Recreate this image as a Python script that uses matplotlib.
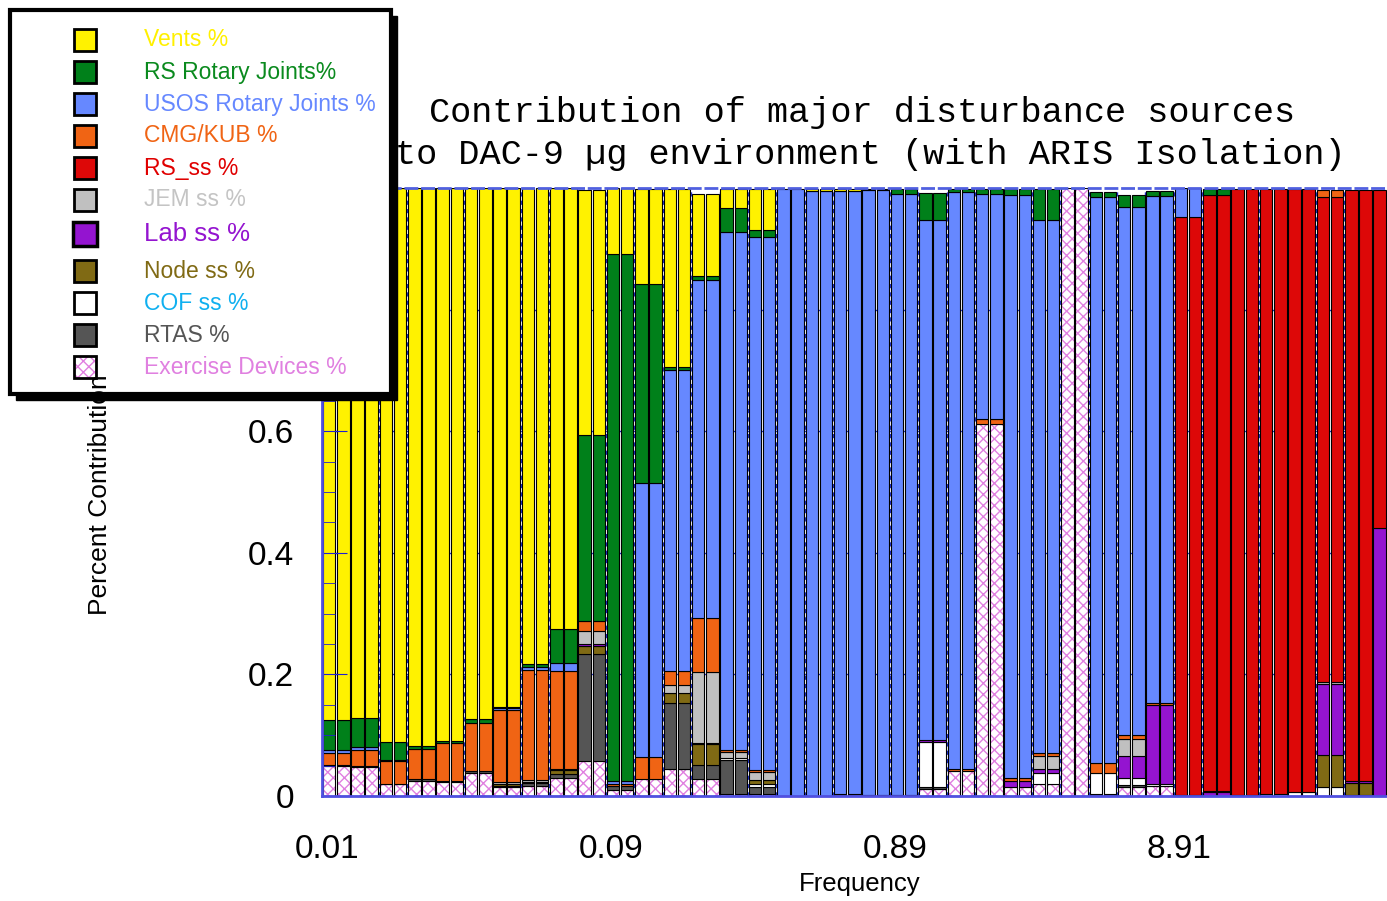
import numpy as np
import matplotlib
matplotlib.use("Agg")
import matplotlib.pyplot as plt
from matplotlib.patches import Rectangle

plt.rcParams['font.family'] = ['Liberation Sans', 'DejaVu Sans']
plt.rcParams['hatch.linewidth'] = 1.0

###############################################################################
# Data: share of each source per 1/3-octave band (each band drawn as a pair)
# ---------------------------------------------------------------------------

freq_labels = ['0.01', '0.09', '0.89', '8.91']
label_bands = [0, 10, 20, 30]

exercise = [.049, .048, .019, .025, .023, .038, .014, .017, .029, .058, .010, .028, .045, .028, .004, .003, 0, 0, 0, 0,
            0, .011, .041, .612, .015, .019, 1.0, 0, .015, .016, 0, 0, 0, 0, 0, 0, 0, 0]
rtas = [.002, .002, .001, .003, .002, .003, .003, .004, .008, .175, .006, 0, .108, .023, .056, .011, 0, 0, .003, 0,
        .002, .003, 0, 0, 0, 0, 0, .003, .003, 0, 0, 0, 0, 0, 0, 0, 0, 0]
cof = [0, 0, 0, 0, 0, 0, 0, 0, 0, 0, 0, 0, 0, 0, .003, .005, 0, 0, 0, 0,
       0, .074, 0, 0, 0, .019, 0, .035, .012, .003, 0, 0, 0, .003, .006, .014, .002, 0]
node = [0, 0, 0, 0, 0, 0, .003, .002, .005, .014, 0, 0, .016, .034, 0, .007, 0, 0, 0, 0,
        0, 0, 0, 0, 0, 0, 0, 0, 0, 0, 0, 0, 0, 0, 0, .053, .020, 0]
lab = [0, 0, 0, 0, 0, 0, 0, 0, 0, .003, 0, 0, 0, .002, 0, 0, 0, 0, 0, .002,
       0, .004, 0, 0, .010, .007, 0, 0, .035, .131, .002, .006, .002, 0, 0, .117, .003, .441]
jem = [0, 0, 0, 0, 0, 0, .003, .004, .002, .022, 0, 0, .014, .117, .010, .014, 0, 0, 0, 0,
       0, 0, 0, 0, 0, .020, 0, 0, .028, 0, 0, .003, 0, 0, 0, .003, 0, 0]
rs_ss = [0] * 30 + [.951, .979, .996, .995, .992, .798, .971, .556]
cmg = [.019, .026, .037, .050, .062, .079, .118, .180, .162, .016, .003, .036, .023, .088, .003, .003, 0, 0, 0, 0,
       0, 0, .004, .008, .005, .006, 0, .016, .007, .003, 0, 0, 0, 0, 0, .012, 0, 0]
usos = [.006, .005, .003, 0, 0, 0, .003, .005, .012, 0, .005, .450, .494, .557, .852, .876, .999, .995, .992, .995,
        .988, .856, .949, .370, .958, .877, 0, .931, .868, .834, .047, 0, 0, 0, 0, 0, 0, 0]
rs_rot = [.049, .048, .028, .004, .003, .007, .003, .005, .057, .306, .867, .328, .006, .007, .039, .012, 0, 0, 0, .002,
          .008, .043, .004, .008, .010, .050, 0, .009, .020, .008, 0, .010, 0, 0, 0, 0, 0, 0]
vents = [.875, .871, .912, .918, .910, .873, .853, .783, .725, .403, .109, .156, .292, .134, .031, .067, 0, .004, .004, 0,
         0, 0, 0, 0, 0, 0, 0, 0, 0, 0, 0, 0, 0, 0, 0, 0, 0, 0]

# legend order (top to bottom); stacking goes the other way
names = ['Vents %', 'RS Rotary Joints%', 'USOS Rotary Joints %', 'CMG/KUB %', 'RS_ss %', 'JEM ss %',
         'Lab ss %', 'Node ss %', 'COF ss %', 'RTAS %', 'Exercise Devices %']
series = [vents, rs_rot, usos, cmg, rs_ss, jem, lab, node, cof, rtas, exercise]
fill = ['#FFF200', '#00801A', '#6688FF', '#F06414', '#DD0808', '#C0C0C0',
        '#9414D0', '#806A14', '#FFFFFF', '#555555', '#FFFFFF']
text_col = ['#FFF000', '#0A8A1E', '#6688FF', '#F06414', '#E00000', '#C4C4C4',
            '#9414D0', '#806A14', '#10B0F0', '#555555', '#E080E0']
hatch_col = '#E080E0'

###############################################################################
# Plot
# ----

fig = plt.figure(figsize=(13.87, 9.01), dpi=100)
ax = fig.add_axes([322 / 1387, 105 / 901, 1079 / 1387, 608 / 901])

n = len(vents)
band = np.arange(n)
bottom = np.zeros(n)
for k in range(len(series) - 1, -1, -1):
    h = np.array(series[k], dtype=float)
    m = h > 0
    for off in (0.5, 1.5):
        x = 2 * band[m] + off
        if names[k].startswith('Exercise'):
            ax.bar(x, h[m], 0.88, bottom=bottom[m], color='white', edgecolor=hatch_col,
                   hatch='xxx', linewidth=0, zorder=1)
            ax.bar(x, h[m], 0.88, bottom=bottom[m], color='none', edgecolor='black',
                   linewidth=0.8, zorder=1)
        else:
            ax.bar(x, h[m], 0.88, bottom=bottom[m], color=fill[k], edgecolor='black',
                   linewidth=0.8, zorder=1)
    bottom += h

# blue guides seen through the gaps
for i in range(n + 1):
    ax.axvline(2 * i, color='#2030D0', lw=1, ls=(0, (3, 3)), zorder=0)
for yv in [0.2, 0.4, 0.6, 0.8]:
    ax.axhline(yv, color='#2030D0', lw=1, zorder=0)

ax.set_xlim(0, 2 * n)
ax.set_ylim(0, 1)
ax.set_xticks([2 * i + 0.35 for i in label_bands])
ax.set_xticklabels(freq_labels, fontsize=24)
ax.tick_params(axis='x', length=0, pad=27)
# 0.8 and 1 sit under the legend box, so only the visible labels are written
ax.set_yticks([0, 0.2, 0.4, 0.6, 0.8, 1.0])
ax.set_yticklabels(['0', '0.2', '0.4', '0.6', '', ''], fontsize=24)
ax.set_yticks(np.arange(0.05, 1.0, 0.05), minor=True)
ax.tick_params(axis='y', which='major', direction='in', length=18, color='#2020D0', pad=20)
ax.tick_params(axis='y', which='minor', direction='in', length=9, color='#2020D0')
for s in ['left', 'bottom']:
    ax.spines[s].set_color('#5050E0')
    ax.spines[s].set_linewidth(2)
ax.spines['top'].set_color('#5060E0')
ax.spines['top'].set_linestyle((0, (4, 2)))
ax.spines['top'].set_linewidth(2)
ax.spines['right'].set_visible(False)

# overlay in pixel coordinates for title, labels and the boxed legend
ov = fig.add_axes([0, 0, 1, 1], zorder=10)
ov.set_xlim(0, 1387)
ov.set_ylim(901, 0)
ov.axis('off')

ov.text(862, 122, 'Contribution of major disturbance sources', family='Liberation Mono',
        fontsize=25.4, ha='center', va='baseline')
ov.text(870, 164, 'to DAC-9 \u00b5g environment (with ARIS Isolation)', family='Liberation Mono',
        fontsize=25.4, ha='center', va='baseline')
ov.text(860, 884, 'Frequency', fontsize=18.5, ha='center', va='center')

ov.add_patch(Rectangle((16, 16), 381, 384, facecolor='black', edgecolor='black', zorder=1))
ov.add_patch(Rectangle((10, 10), 381, 384, facecolor='white', edgecolor='black', lw=3, zorder=2))
row_y = [40, 72, 104, 136, 168, 200, 234, 271, 303, 335, 367]
for k, name in enumerate(names):
    big = name.startswith('Lab')
    s = 24 if big else 22
    y0 = row_y[k] - s / 2
    if name.startswith('Exercise'):
        ov.add_patch(Rectangle((85 - s / 2, y0), s, s, facecolor='white', edgecolor=hatch_col,
                               hatch='xxx', lw=0, zorder=3))
        ov.add_patch(Rectangle((85 - s / 2, y0), s, s, facecolor='none', edgecolor='black', lw=2, zorder=3))
    else:
        ov.add_patch(Rectangle((85 - s / 2, y0), s, s, facecolor=fill[k], edgecolor='black',
                               lw=2.5 if big else 2, zorder=3))
    ov.text(144, row_y[k], name, color=text_col[k], fontsize=18.5 if big else 16.5,
            va='center', ha='left', zorder=3)

ov.text(100, 495, 'Percent Contribution', fontsize=19, rotation=90, ha='center', va='center', zorder=4)

fig.savefig('out.png', dpi=100)
